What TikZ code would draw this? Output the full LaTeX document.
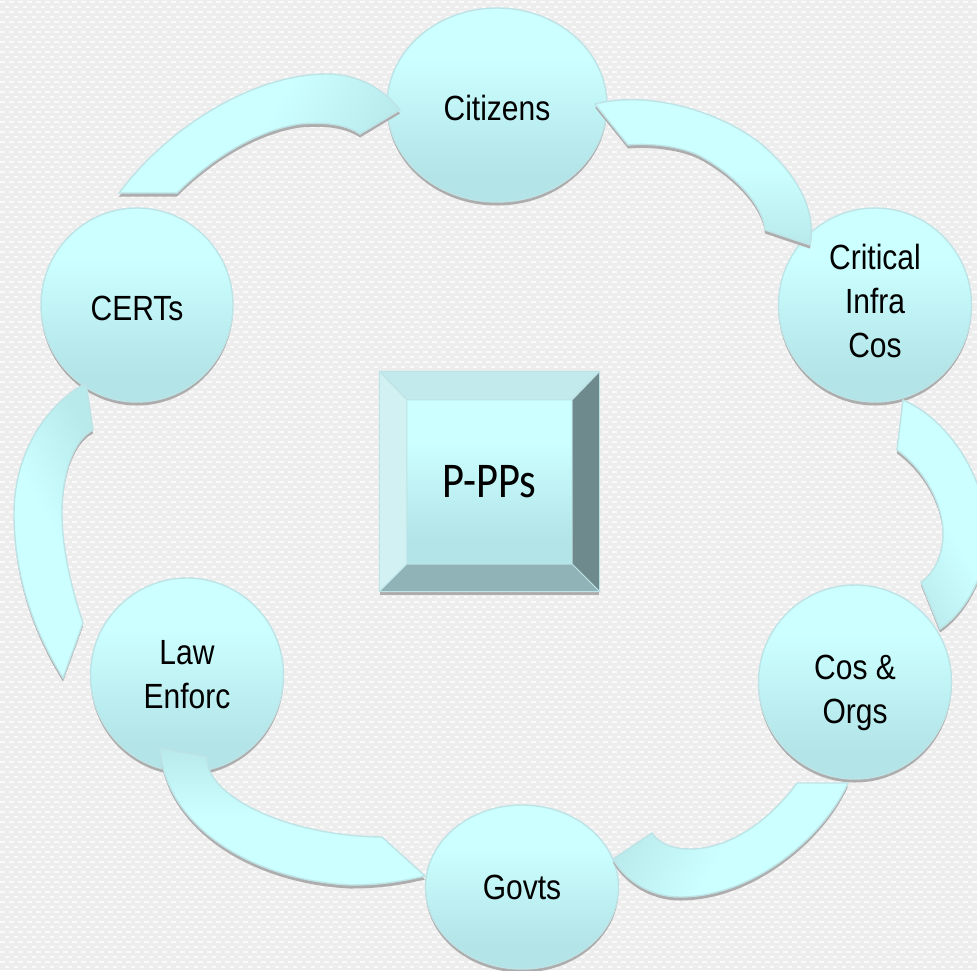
\documentclass[tikz,border=0pt]{standalone}
\usepackage{fontspec}
\setmainfont{Liberation Sans}
\newfontfamily\pppfont{Carlito}
\usetikzlibrary{shapes.geometric}
\definecolor{lt}{HTML}{CCFFFF}
\definecolor{dk}{HTML}{B2E4E8}
\definecolor{edge}{HTML}{BDE3E6}
\definecolor{shd}{HTML}{ADADAD}
\definecolor{arrdk}{HTML}{B8EAEB}
\definecolor{bgbase}{HTML}{EDEDED}
\definecolor{bgdot}{HTML}{FAFAFA}
\definecolor{bvtop}{HTML}{C2E9EC}
\definecolor{bvleft}{HTML}{D2F1F3}
\definecolor{bvright}{HTML}{6F8A8D}
\definecolor{bvbottom}{HTML}{8FB3B7}
\pgfdeclareverticalshading{bubshade}{100bp}{color(0bp)=(dk); color(32bp)=(dk); color(62bp)=(lt); color(100bp)=(lt)}
\newcommand{\nar}[2][0pt]{\raisebox{#1}[\height][\depth]{\scalebox{0.857}[1]{#2}}}
\tikzset{
  bubble/.style={ellipse,inner sep=0pt,draw=edge,line width=1.4pt,shade,shading=bubshade,
    font=\fontsize{35}{44}\selectfont,text=black,align=center,
    preaction={fill=shd,draw=none,transform canvas={yshift=-3.5pt}}},
  blockarrow/.style={draw=edge,line width=1.4pt,line join=miter,bottom color=arrdk,top color=lt,middle color=lt,
    preaction={fill=shd,draw=none,transform canvas={yshift=-3.5pt}}},
  bevel/.style={draw=edge,line width=1pt,line join=round},
}
\begin{document}
\begin{tikzpicture}[x=1pt,y=-1pt]
\useasboundingbox (0,0) rectangle (977,970);
\clip (0,0) rectangle (977,970);
\fill[bgbase] (0,0) rectangle (977,970);
\foreach \r in {0,...,97}{
  \draw[bgdot,line width=1.6pt,dash pattern=on 4.5pt off 4.5pt,dash phase=0pt] (0,\r*10+2) -- (977,\r*10+2);
  \draw[bgdot,line width=1.6pt,dash pattern=on 4.5pt off 4.5pt,dash phase=4.5pt] (0,\r*10+7) -- (977,\r*10+7);
}
% circles
\node[bubble,minimum width=220pt,minimum height=194pt] (citizens) at (497,105) {\nar[-3pt]{Citizens}};
\node[bubble,minimum width=193pt,minimum height=194pt] (critical) at (875,305) {\nar[4pt]{Critical}\\\nar[4pt]{Infra}\\\nar[4pt]{Cos}};
\node[bubble,minimum width=193pt,minimum height=194pt] (cos) at (855,682) {\nar[-11pt]{Cos \&}\\\nar[-11pt]{Orgs}};
\node[bubble,minimum width=193pt,minimum height=164pt] (govts) at (522,887) {\nar{Govts}};
\node[bubble,minimum width=193pt,minimum height=194pt] (law) at (187,675) {\nar{Law}\\\nar{Enforc}};
\node[bubble,minimum width=192pt,minimum height=194pt] (certs) at (137,305) {\nar[-3pt]{CERTs}};
% block arrows
\path[blockarrow,shading angle=60] (119,193)
  .. controls (170,125) and (255,74) .. (327,74) .. controls (357,74) and (383,88) .. (400,110)
  -- (360,134) .. controls (345,124) and (325,122) .. (300,124) .. controls (260,130) and (215,155) .. (177,193) -- cycle;
\path[blockarrow,shading angle=0] (595,104)
  .. controls (650,90) and (720,112) .. (760,143) .. controls (790,168) and (818,205) .. (810,245)
  -- (765,230) .. controls (763,205) and (735,175) .. (700,156) .. controls (680,146) and (650,143) .. (628,145) -- cycle;
\path[blockarrow,shading angle=-60] (903,400)
  .. controls (950,420) and (987,480) .. (987,535) .. controls (987,575) and (965,612) .. (940,629)
  -- (921,582) .. controls (935,572) and (943,555) .. (943,533) .. controls (943,505) and (925,470) .. (897,450) -- cycle;
\path[blockarrow,shading angle=-120] (848,783)
  .. controls (825,835) and (755,897) .. (680,897) .. controls (650,897) and (625,880) .. (613,859)
  -- (652,833) .. controls (660,845) and (675,849) .. (690,849) .. controls (730,849) and (770,820) .. (797,783) -- cycle;
\path[blockarrow,shading angle=180] (425,876)
  .. controls (395,883) and (375,885) .. (350,885) .. controls (250,880) and (165,825) .. (160,748)
  -- (207,757) .. controls (205,795) and (285,836) .. (382,837) -- cycle;
\path[blockarrow,shading angle=120] (63,678)
  .. controls (30,625) and (14,570) .. (14,513) .. controls (14,455) and (45,405) .. (86,383)
  -- (93,430) .. controls (73,440) and (62,475) .. (62,513) .. controls (62,550) and (72,590) .. (83,623) -- cycle;
% centre square
\fill[shd] (380,374) rectangle (599,594.5);
\node[draw=edge,line width=1.4pt,fill=dk,minimum width=219pt,minimum height=219pt,inner sep=0pt] (outer) at (489.5,481.5) {};
\node[shade,shading=bubshade,minimum width=165pt,minimum height=164pt,inner sep=0pt,
  font=\pppfont\fontsize{50}{60}\selectfont] (inner) at (489.5,482) {\scalebox{0.85}[1]{P-PPs}};
\path[bevel,fill=bvtop] (outer.north west) -- (outer.north east) -- (inner.north east) -- (inner.north west) -- cycle;
\path[bevel,fill=bvleft] (outer.north west) -- (inner.north west) -- (inner.south west) -- (outer.south west) -- cycle;
\path[bevel,fill=bvright] (outer.north east) -- (outer.south east) -- (inner.south east) -- (inner.north east) -- cycle;
\path[bevel,fill=bvbottom] (outer.south west) -- (inner.south west) -- (inner.south east) -- (outer.south east) -- cycle;
\draw[edge,line width=1.4pt] (outer.north west) rectangle (outer.south east);
\end{tikzpicture}
\end{document}
